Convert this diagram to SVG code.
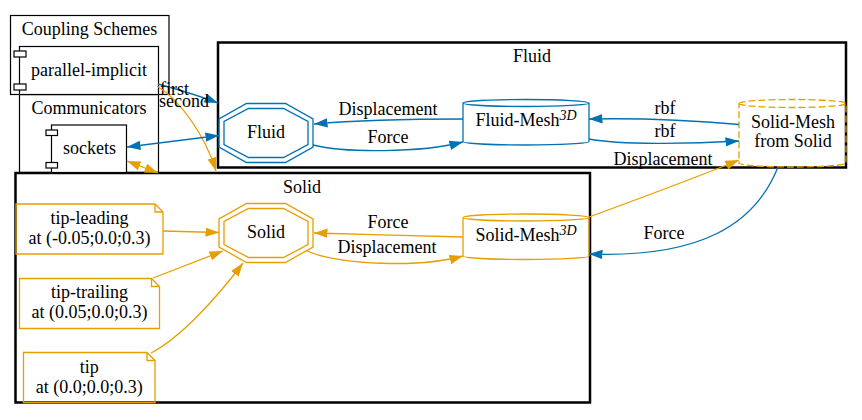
<svg xmlns="http://www.w3.org/2000/svg" width="862" height="420" viewBox="0 0 862 420" font-family="'Liberation Serif', 'Times New Roman', 'DejaVu Serif', serif">
<style>
text{font-family:"Liberation Serif","Times New Roman","DejaVu Serif",serif;font-size:18px;fill:#000}
.mid{text-anchor:middle}
.cl{fill:none;stroke:#000;stroke-width:1.2}
.clb{fill:none;stroke:#000;stroke-width:2.5}
.nb{fill:none;stroke:#0072B2;stroke-width:1.3}
.no{fill:none;stroke:#E69F00;stroke-width:1.3}
.nd{fill:none;stroke:#E69F00;stroke-width:1.3;stroke-dasharray:7,3}
.cmp{fill:#fff;stroke:#000;stroke-width:1.2}
.eb{fill:none;stroke:#0072B2;stroke-width:1.3;marker-end:url(#ab)}
.eo{fill:none;stroke:#E69F00;stroke-width:1.3;marker-end:url(#ao)}
.sup{font-style:italic;font-size:14px}
</style>
<defs>
<marker id="ab" markerUnits="userSpaceOnUse" markerWidth="14" markerHeight="10" viewBox="0 0 14 10" refX="13.5" refY="5" orient="auto-start-reverse"><path d="M0,0.3 L13.5,5 L0,9.7 Z" fill="#0072B2"/></marker>
<marker id="ao" markerUnits="userSpaceOnUse" markerWidth="14" markerHeight="10" viewBox="0 0 14 10" refX="13.5" refY="5" orient="auto-start-reverse"><path d="M0,0.3 L13.5,5 L0,9.7 Z" fill="#E69F00"/></marker>
<polygon id="octo" points="-19.5,-29.5 19.5,-29.5 47,-14 47,14 19.5,29.5 -19.5,29.5 -47,14 -47,-14"/>
<polygon id="octi" points="-17.5,-24.5 17.5,-24.5 42,-11.5 42,11.5 17.5,24.5 -17.5,24.5 -42,11.5 -42,-11.5"/>
</defs>
<rect width="862" height="420" fill="#fff"/>

<g id="cluster-coupling">
<rect class="cl" x="10.5" y="15.5" width="158.5" height="79"/>
<text class="mid" x="89.5" y="35">Coupling Schemes</text>
</g>
<g id="cluster-communicators">
<rect class="cl" x="19.5" y="94.5" width="139" height="78"/>
<text class="mid" x="89" y="114">Communicators</text>
</g>
<g id="cluster-fluid">
<rect class="clb" x="218" y="42.5" width="628" height="125"/>
<text class="mid" x="532" y="62">Fluid</text>
</g>
<g id="cluster-solid">
<rect class="clb" x="15.5" y="173" width="574.5" height="229.5"/>
<text class="mid" x="302" y="193">Solid</text>
</g>

<g id="node-parallel-implicit">
<rect class="cmp" x="19.5" y="46.5" width="139" height="48"/>
<rect class="cmp" x="14" y="51" width="12" height="6"/>
<rect class="cmp" x="14" y="84" width="12" height="6"/>
<text class="mid" x="89" y="76">parallel-implicit</text>
</g>
<g id="node-sockets">
<rect class="cmp" x="51.5" y="125" width="75" height="47.5"/>
<rect class="cmp" x="46" y="130" width="11.5" height="5.5"/>
<rect class="cmp" x="46" y="162.5" width="11.5" height="5.5"/>
<text class="mid" x="89.5" y="153.5">sockets</text>
</g>

<g id="node-fluid">
<use href="#octo" x="266" y="133" class="nb"/>
<use href="#octi" x="266" y="133" class="nb"/>
<text class="mid" x="266" y="137.5">Fluid</text>
</g>
<g id="node-fluid-mesh">
<path class="nb" d="M463,103 A63,3.5 0 0 1 589,103 L589,141.5 A63,3.5 0 0 1 463,141.5 Z M463,103 A63,3.5 0 0 0 589,103"/>
<text class="mid" x="526" y="126">Fluid-Mesh<tspan class="sup" dy="-6">3D</tspan></text>
</g>
<g id="node-solid-mesh-from-solid">
<path class="nd" d="M739,103.5 A53.5,4 0 0 1 846,103.5 L846,163 A53.5,4 0 0 1 739,163 Z M739,103.5 A53.5,4 0 0 0 846,103.5"/>
<text class="mid" x="793" y="128">Solid-Mesh</text>
<text class="mid" x="793" y="147">from Solid</text>
</g>
<g id="node-solid">
<use href="#octo" x="266" y="233" class="no"/>
<use href="#octi" x="266" y="233" class="no"/>
<text class="mid" x="266" y="237.5">Solid</text>
</g>
<g id="node-solid-mesh">
<path class="no" d="M463,217.5 A63,3.5 0 0 1 589,217.5 L589,256 A63,3.5 0 0 1 463,256 Z M463,217.5 A63,3.5 0 0 0 589,217.5"/>
<text class="mid" x="526" y="241">Solid-Mesh<tspan class="sup" dy="-6">3D</tspan></text>
</g>
<g id="node-tip-leading">
<path class="no" d="M16,204 H155 L163,212 V254 H16 Z M155,204 V212 H163"/>
<text class="mid" x="89.5" y="223.5">tip-leading</text>
<text class="mid" x="89.5" y="243.5">at (-0.05;0.0;0.3)</text>
</g>
<g id="node-tip-trailing">
<path class="no" d="M19.5,278.5 H151.5 L159.5,286.5 V328.5 H19.5 Z M151.5,278.5 V286.5 H159.5"/>
<text class="mid" x="89.5" y="298">tip-trailing</text>
<text class="mid" x="89.5" y="318">at (0.05;0.0;0.3)</text>
</g>
<g id="node-tip">
<path class="no" d="M23.5,352.5 H147 L155,360.5 V402.5 H23.5 Z M147,352.5 V360.5 H155"/>
<text class="mid" x="89.3" y="372.5">tip</text>
<text class="mid" x="89.3" y="392.5">at (0.0;0.0;0.3)</text>
</g>

<g id="connectors">
<path class="eb" d="M158,84 C180,90 200,96 218,103"/>
<text x="160" y="95">first</text>
<path class="eo" d="M157,86 C180,100 205,135 216,171"/>
<text x="159" y="107">second</text>
<path class="eb" style="marker-start:url(#ab)" d="M127,147 L219,135.5"/>
<path class="eo" style="marker-start:url(#ao)" d="M127,161 L158,173"/>
<path class="eb" d="M463,119 C420,119 360,120 314,124"/>
<text class="mid" x="388" y="115">Displacement</text>
<path class="eb" d="M313,145 C345,153 420,153 463,142"/>
<text class="mid" x="388" y="143">Force</text>
<path class="eb" d="M739,124.5 C700,121 640,118 589,119"/>
<text class="mid" x="665" y="114">rbf</text>
<path class="eb" d="M589,139 C620,145 690,144 739,141"/>
<text class="mid" x="665" y="137">rbf</text>
<path class="eo" d="M589,217 C630,202 690,180 739,160"/>
<text class="mid" x="663" y="165">Displacement</text>
<path class="eb" d="M778,167 C755,225 700,258 589,254"/>
<text class="mid" x="664" y="239">Force</text>
<path class="eo" d="M463,237 C420,236 360,234 314,233"/>
<text class="mid" x="388" y="228">Force</text>
<path class="eo" d="M307,251 C340,265 420,268 463,256"/>
<text class="mid" x="387" y="253">Displacement</text>
<path class="eo" d="M163,231 L219,232.5"/>
<path class="eo" d="M153,278 L223,251"/>
<path class="eo" d="M151,353 C180,338 215,300 243,263"/>
</g>
</svg>
